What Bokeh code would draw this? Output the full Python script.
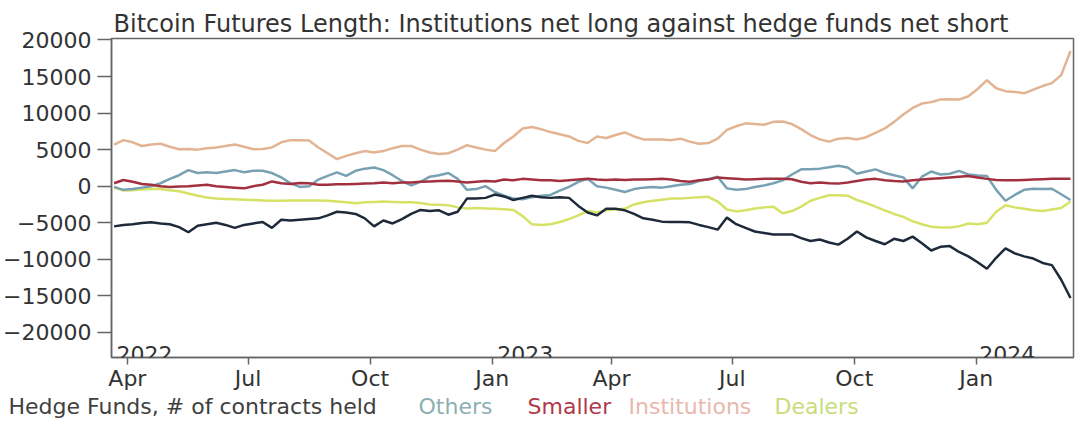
import pandas as pd
from bokeh.plotting import figure
from bokeh.layouts import column
from bokeh.models import Range1d, FixedTicker, DatetimeTickFormatter, Label
from bokeh.embed import file_html
from bokeh.resources import INLINE

# ---------------- data (weekly) ----------------
start_date = "2022-03-22"

institutions = [5700, 6300, 6000, 5500, 5700, 5800, 5400, 5050, 5100, 5000,
                5200, 5300, 5500, 5700, 5400, 5050, 5100, 5300, 6000, 6300,
                6300, 6250, 5300, 4500, 3700, 4150, 4500, 4800, 4600, 4800,
                5200, 5500, 5500, 5000, 4600, 4400, 4500, 5000, 5600, 5300,
                5000, 4800, 5900, 6800, 7900, 8100, 7800, 7400, 7100, 6800,
                6200, 5900, 6800, 6600, 7000, 7350, 6800, 6400, 6400, 6400,
                6300, 6500, 6100, 5800, 5900, 6500, 7700, 8200, 8600, 8500,
                8400, 8800, 8850, 8500, 7800, 7000, 6400, 6100, 6500, 6600,
                6400, 6700, 7300, 7900, 8800, 9800, 10700, 11300, 11500, 11850,
                11900, 11850, 12300, 13300, 14500, 13400, 13000, 12900, 12700, 13200,
                13700, 14100, 15200, 18500]

hedge_funds = [-5500, -5300, -5200, -5050, -4950, -5100, -5200, -5600, -6300, -5400,
               -5200, -5000, -5300, -5700, -5300, -5100, -4900, -5700, -4600, -4700,
               -4600, -4500, -4400, -4000, -3500, -3600, -3800, -4400, -5500, -4700,
               -5100, -4500, -3800, -3250, -3400, -3300, -3900, -3500, -1700, -1700,
               -1600, -1150, -1400, -1900, -1600, -1300, -1500, -1600, -1500, -1600,
               -2700, -3600, -4000, -3100, -3100, -3300, -3800, -4400, -4600, -4850,
               -4900, -4900, -4950, -5300, -5600, -5950, -4300, -5200, -5700, -6200,
               -6400, -6600, -6600, -6600, -7100, -7500, -7300, -7700, -8000, -7200,
               -6200, -7000, -7500, -7950, -7200, -7500, -6900, -7800, -8800, -8300,
               -8200, -9000, -9600, -10400, -11300, -9800, -8500, -9200, -9600, -9900,
               -10500, -10800, -12800, -15300]

others = [-100, -500, -400, -200, 0, 400, 1000, 1500, 2200, 1800,
          1900, 1800, 2000, 2200, 1900, 2100, 2100, 1800, 1200, 400,
          -100, 0, 900, 1400, 1900, 1400, 2100, 2400, 2550, 2200,
          1500, 700, 100, 600, 1300, 1500, 1800, 1000, -500, -400,
          0, -800, -1300, -1700, -1800, -1500, -1300, -1200, -600, -100,
          600, 1000, 0, -200, -500, -800, -400, -200, -100, -200,
          0, 200, 300, 700, 1000, 1300, -300, -500, -400, -100,
          100, 400, 800, 1600, 2300, 2300, 2400, 2600, 2800, 2550,
          1700, 2000, 2300, 1800, 1500, 1200, -300, 1300, 2000, 1600,
          1700, 2100, 1600, 1450, 1400, -500, -2000, -1200, -500, -350,
          -400, -350, -1100, -1900]

smaller = [400, 850, 600, 300, 200, 0, -100, -50, 0, 100,
           200, 0, -100, -200, -300, 0, 200, 650, 400, 300,
           450, 400, 200, 200, 250, 250, 300, 350, 400, 500,
           400, 500, 500, 600, 650, 700, 750, 650, 500, 600,
           700, 650, 900, 800, 1000, 900, 800, 800, 700, 800,
           900, 1000, 900, 850, 900, 850, 900, 900, 950, 1000,
           900, 700, 600, 800, 900, 1200, 1100, 1000, 900, 950,
           1000, 1000, 1000, 950, 600, 400, 500, 400, 350, 500,
           700, 900, 1000, 800, 700, 650, 800, 900, 1000, 1100,
           1200, 1300, 1400, 1200, 1000, 850, 800, 800, 850, 900,
           950, 1000, 1000, 1000]

dealers = [-200, -600, -550, -450, -350, -400, -550, -700, -1000, -1300,
           -1550, -1700, -1750, -1800, -1850, -1900, -1950, -2000, -2000, -1950,
           -1950, -1950, -1950, -2000, -2100, -2200, -2350, -2200, -2150, -2100,
           -2150, -2200, -2200, -2300, -2500, -2550, -2600, -2900, -3050, -3000,
           -3050, -3100, -3150, -3250, -4100, -5200, -5300, -5200, -4900, -4500,
           -4000, -3400, -3600, -3300, -3200, -3100, -2500, -2200, -2000, -1850,
           -1700, -1700, -1600, -1500, -1450, -2100, -3200, -3450, -3300, -3050,
           -2900, -2800, -3700, -3400, -2800, -2000, -1600, -1250, -1250, -1300,
           -1900, -2300, -2800, -3300, -3800, -4200, -4800, -5200, -5550, -5650,
           -5650, -5500, -5100, -5200, -5000, -3500, -2600, -2900, -3100, -3300,
           -3400, -3200, -3000, -2100]

quarter_ticks = ["2022-04-01", "2022-07-01", "2022-10-01", "2023-01-01",
                 "2023-04-01", "2023-07-01", "2023-10-01", "2024-01-01"]
year_labels = ["2022", "2023", "2024"]
year_label_dates = ["2022-03-20 01:00", "2023-01-01", "2024-01-01"]
y_ticks = [-20000, -15000, -10000, -5000, 0, 5000, 10000, 15000, 20000]

title_text = "Bitcoin Futures Length: Institutions net long against hedge funds net short"
legend_names = ["Hedge Funds, # of contracts held", "Others", "Smaller", "Institutions", "Dealers"]

# ---------------- styling ----------------
FONT = "DejaVu Sans"
TXT = "#333333"
AXC = "#666666"
colors = {
    "Institutions": "#e2b494",
    "Dealers": "#d6e266",
    "Others": "#78a2b4",
    "Smaller": "#a3303f",
    "Hedge": "#1e2a3a",
}
legend_colors = ["#404040", "#8cb0b2", "#b03a4a", "#e8b8ae", "#c9dd7a"]
legend_px = [8, 418, 527, 628, 774]   # left edge of each legend word (px)

W = 1075
H_MAIN, H_LEG = 393, 25
X0, X1 = "2022-03-20 01:00", "2024-03-14 06:30"
Y0, Y1 = -23440, 20205


def ms(s):
    return pd.Timestamp(s).value / 1e6


dates = pd.date_range(start_date, periods=len(institutions), freq="7D")

p = figure(width=W, height=H_MAIN, x_axis_type="datetime",
           x_range=Range1d(ms(X0), ms(X1)),
           y_range=Range1d(Y0, Y1),
           output_backend="svg", toolbar_location=None,
           min_border_left=103, min_border_right=2, min_border_top=38,
           min_border_bottom=33, background_fill_color="white",
           border_fill_color="white")

p.title.text = title_text
p.title.align = "left"
p.title.offset = 2
p.title.standoff = 2
p.title.text_font = FONT
p.title.text_font_size = "24px"
p.title.text_font_style = "normal"
p.title.text_color = TXT

p.grid.visible = False
p.outline_line_color = AXC
p.outline_line_width = 1.5

# draw order
p.line(dates, institutions, line_color=colors["Institutions"], line_width=2.5)
p.line(dates, dealers, line_color=colors["Dealers"], line_width=2.5)
p.line(dates, others, line_color=colors["Others"], line_width=2.5)
p.line(dates, smaller, line_color=colors["Smaller"], line_width=2.5)
p.line(dates, hedge_funds, line_color=colors["Hedge"], line_width=2.5)

# axes
for ax in (p.xaxis[0], p.yaxis[0]):
    ax.axis_line_color = AXC
    ax.axis_line_width = 1.5
    ax.major_tick_line_color = AXC
    ax.major_tick_line_width = 1.5
    ax.major_tick_in = 0
    ax.minor_tick_line_color = None
    ax.minor_tick_out = 0
    ax.major_label_text_font = FONT
    ax.major_label_text_color = TXT

p.yaxis[0].ticker = FixedTicker(ticks=y_ticks)
p.yaxis[0].major_tick_out = 14
p.yaxis[0].major_label_standoff = 6
p.yaxis[0].major_label_text_font_size = "22px"

p.xaxis[0].ticker = FixedTicker(ticks=[ms(d) for d in quarter_ticks])
p.xaxis[0].formatter = DatetimeTickFormatter(days="%b", months="%b", years="%b")
p.xaxis[0].major_tick_out = 7
p.xaxis[0].major_label_standoff = 1
p.xaxis[0].major_label_text_font_size = "22px"

# year labels inside plot area
for txt, d, off in zip(year_labels, year_label_dates, [5, 5, 3]):
    p.add_layout(Label(x=ms(d), y=Y0, text=txt, x_offset=off, y_offset=4,
                       text_baseline="alphabetic", text_align="left",
                       text_font=FONT, text_font_size="22px", text_color=TXT))

# ---------------- legend strip (coloured words, no swatches) ----------------
leg = figure(width=W, height=H_LEG, x_range=Range1d(0, W), y_range=Range1d(0, H_LEG),
             output_backend="svg", toolbar_location=None,
             x_axis_location=None, y_axis_location=None,
             min_border=0, outline_line_color=None,
             background_fill_color="white", border_fill_color="white")
leg.grid.visible = False
for fig in (p, leg):
    if "frame_align" in fig.properties():
        fig.frame_align = False
for name, col, px in zip(legend_names, legend_colors, legend_px):
    leg.add_layout(Label(x=px, y=H_LEG / 2, text=name,
                         text_baseline="middle", text_align="left",
                         text_font=FONT, text_font_size="22px", text_color=col))

layout = column(p, leg, spacing=0)
open("out.html", "w").write(file_html(layout, INLINE))
